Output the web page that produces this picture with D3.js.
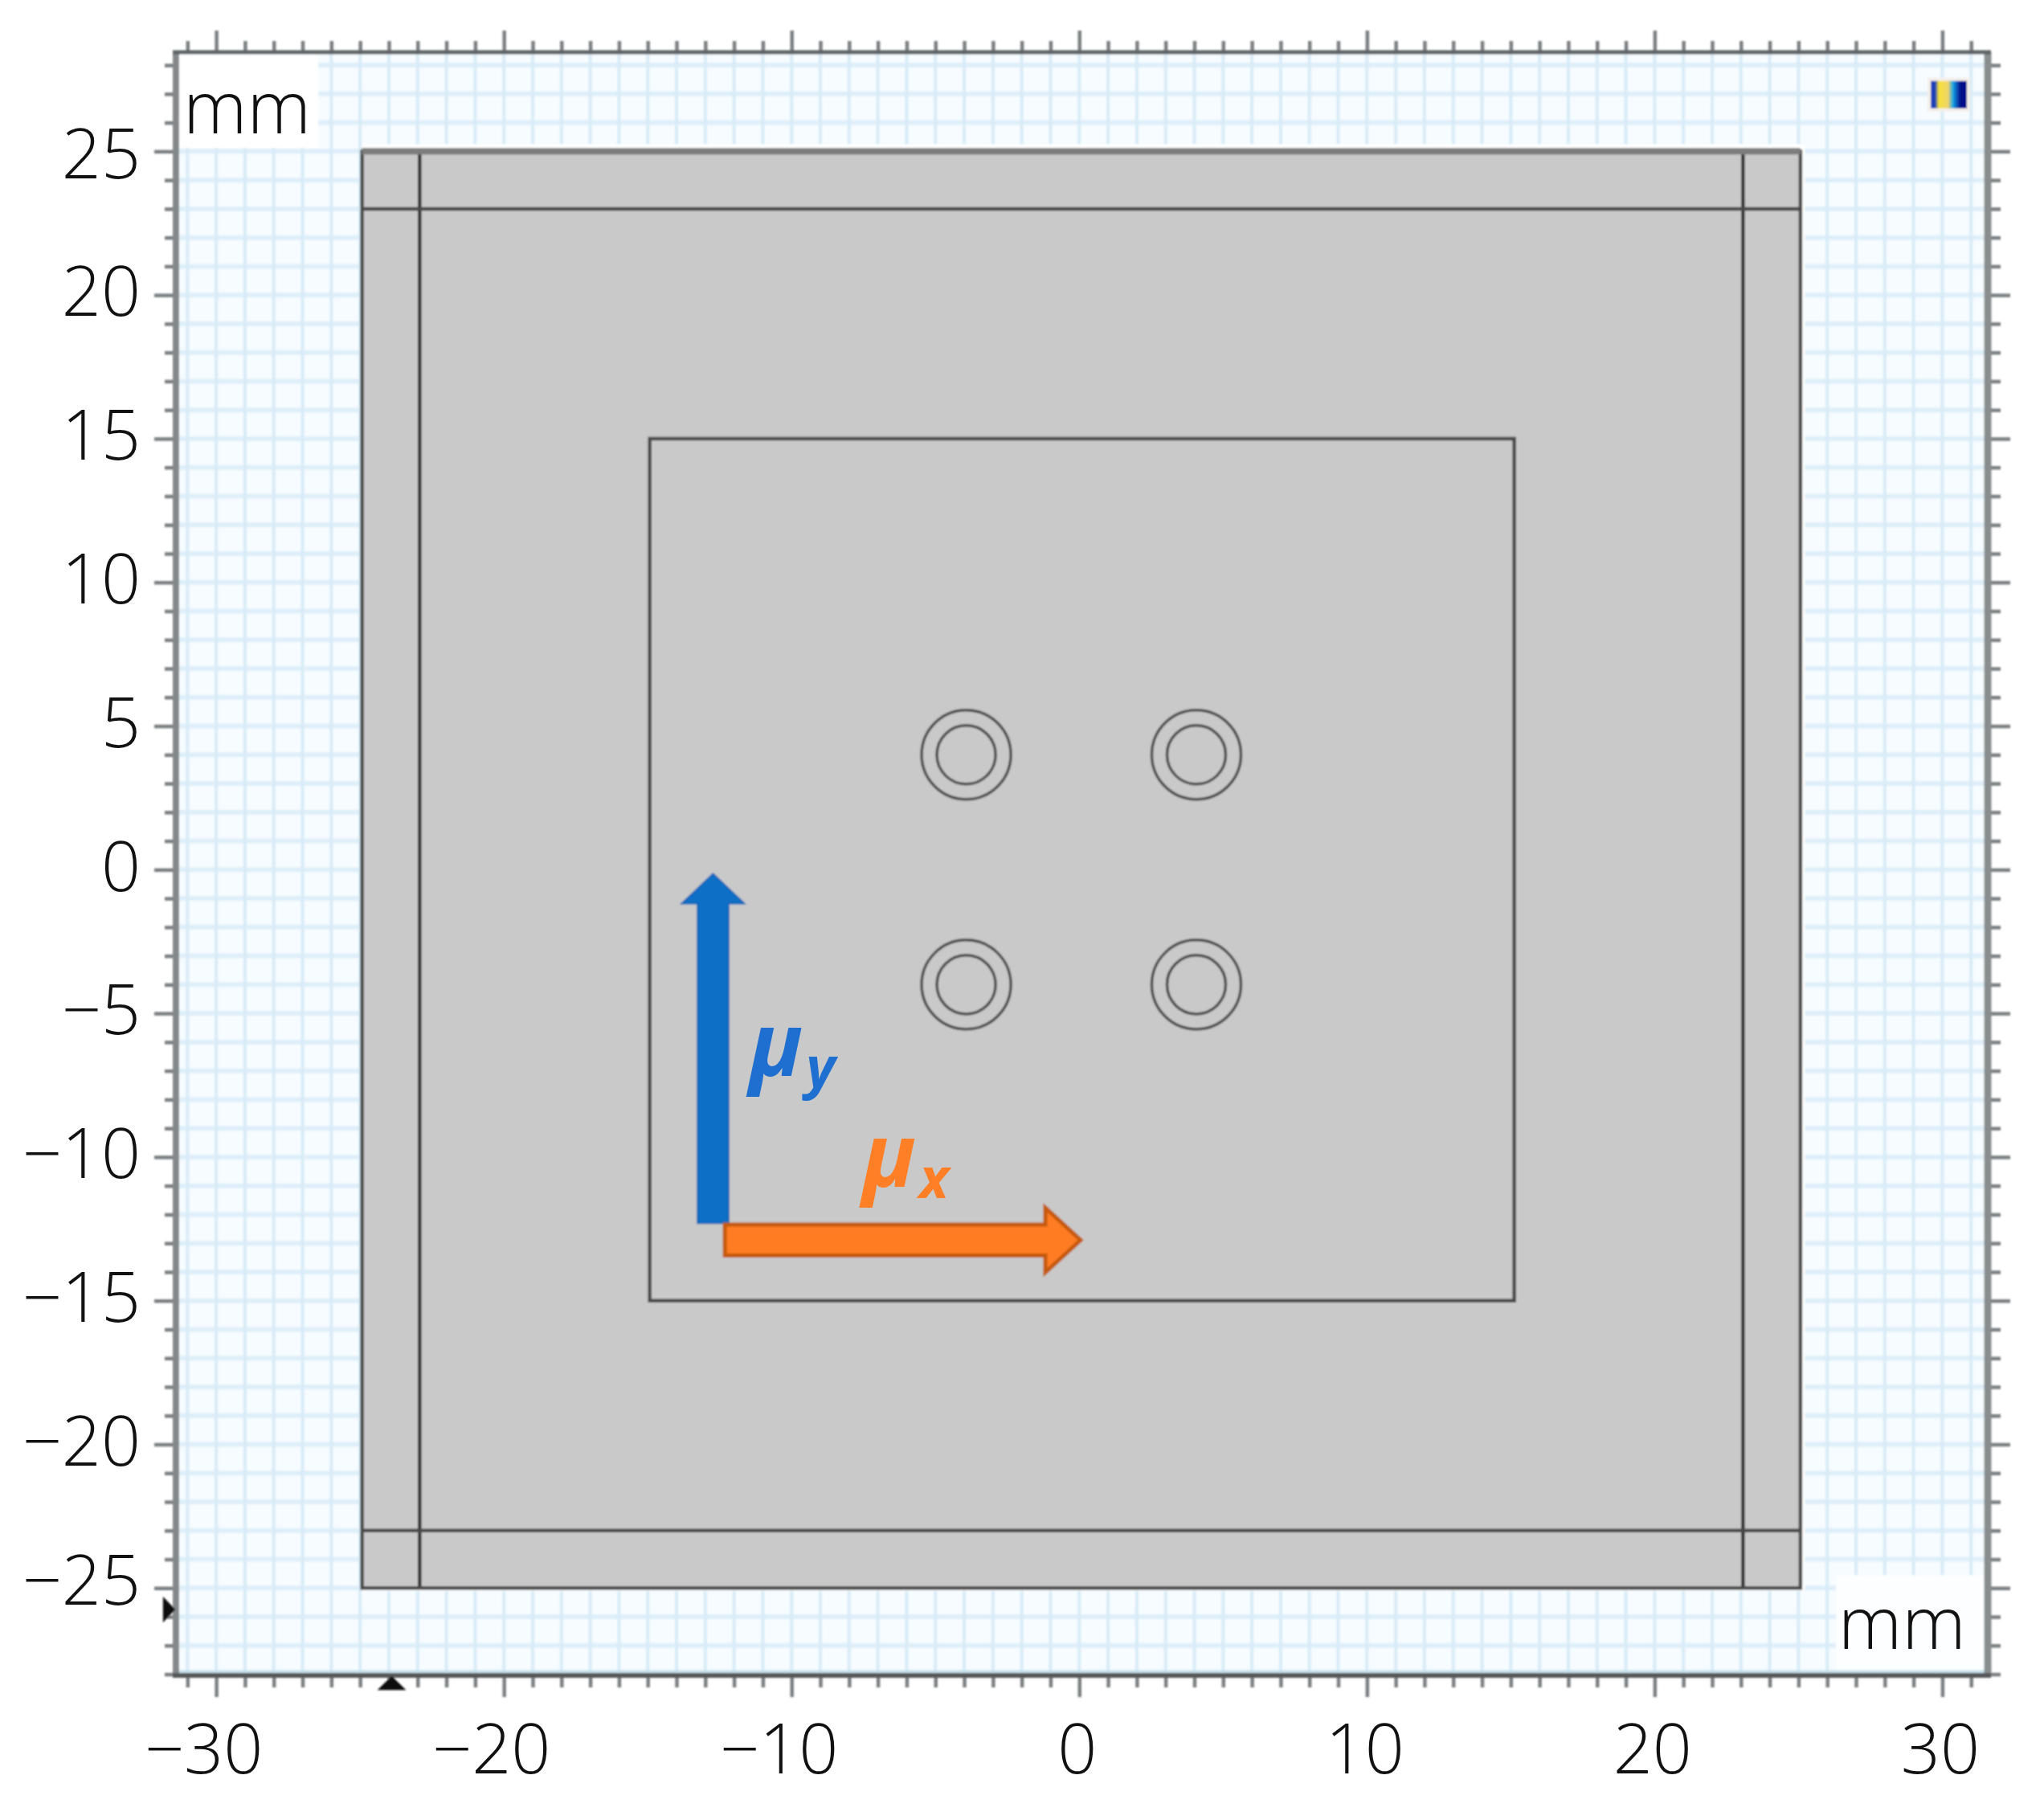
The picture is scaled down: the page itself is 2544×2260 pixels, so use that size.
<!DOCTYPE html>
<html>
<head>
<meta charset="utf-8">
<script src="https://cdn.jsdelivr.net/npm/d3@7"></script>
<style>
  body { margin: 0; background: #fff; }
  text { font-family: "Open Sans", sans-serif; font-weight: 300; fill: #111; }
</style>
</head>
<body>
<script>
// tick values, mm
const xMajor = [-30, -20, -10, 0, 10, 20, 30];
const yMajor = [25, 20, 15, 10, 5, 0, -5, -10, -15, -20, -25];
const xMinor = [-31, -29, -28, -27, -26, -25, -24, -23, -22, -21, -19, -18, -17, -16, -15, -14, -13, -12, -11,
  -9, -8, -7, -6, -5, -4, -3, -2, -1, 1, 2, 3, 4, 5, 6, 7, 8, 9,
  11, 12, 13, 14, 15, 16, 17, 18, 19, 21, 22, 23, 24, 25, 26, 27, 28, 29, 31];
const yMinor = [28, 27, 26, 24, 23, 22, 21, 19, 18, 17, 16, 14, 13, 12, 11, 9, 8, 7, 6, 4, 3, 2, 1,
  -1, -2, -3, -4, -6, -7, -8, -9, -11, -12, -13, -14, -16, -17, -18, -19, -21, -22, -23, -24, -26, -27, -28];

// geometry, mm
const outerSquare = [-25, 25];
const innerLines = [-23, 23];
const innerSquare = [-15, 15.05];
const holeCentres = [[-4, 4], [4, 4], [-4, -4], [4, -4]];
const holeRadii = [1.55, 1.02];
const muYArrow = [[-13.27, -12.3], [-13.27, -1.18], [-13.82, -1.18], [-12.73, -0.14], [-11.64, -1.18], [-12.19, -1.18], [-12.19, -12.3]];
const muXArrow = [[-12.32, -13.43], [-1.18, -13.43], [-1.18, -14.02], [0.05, -12.89], [-1.18, -11.76], [-1.18, -12.35], [-12.32, -12.35]];

const width = 2544;
const height = 2260;
const frameLeft = 219;
const frameRight = 2474;
const frameTop = 65;
const frameBottom = 2085;

const x = d3.scaleLinear().domain([-31.4, 31.58]).range([frameLeft, frameRight]);
const y = d3.scaleLinear().domain([28.45, -28.04]).range([frameTop, frameBottom]);
// the drawn part sits a little right of the ruler in the screenshot
const xs = x.copy().range([frameLeft + 2.5, frameRight + 2.5]);
const pathOf = d3.line().x(d => x(d[0])).y(d => y(d[1]));

const svg = d3.select("body").append("svg")
    .attr("width", width)
    .attr("height", height)
    .attr("viewBox", [0, 0, width, height])
    .style("display", "block");

const defs = svg.append("defs");
defs.append("filter").attr("id", "soft")
    .attr("filterUnits", "userSpaceOnUse")
    .attr("x", 0).attr("y", 0).attr("width", width).attr("height", height)
  .append("feGaussianBlur").attr("stdDeviation", 0.9);
const iconGrad = defs.append("linearGradient").attr("id", "icon");
[["0%", "#1a3fb8"], ["12%", "#1a3fb8"], ["22%", "#f6e23a"], ["48%", "#f0d46a"], ["62%", "#14a5ea"], ["82%", "#04108a"], ["100%", "#04108a"]]
  .forEach(s => iconGrad.append("stop").attr("offset", s[0]).attr("stop-color", s[1]));

const chart = svg.append("g").attr("filter", "url(#soft)");

// grid background
chart.append("rect")
    .attr("x", frameLeft).attr("y", frameTop)
    .attr("width", frameRight - frameLeft).attr("height", frameBottom - frameTop)
    .attr("fill", "#f6fcff");

chart.append("g").attr("stroke", "#dfeff9").attr("stroke-width", 6)
  .selectAll("line").data(yMajor.concat(yMinor)).join("line")
    .attr("x1", frameLeft).attr("x2", frameRight)
    .attr("y1", d => y(d)).attr("y2", d => y(d));
chart.append("g").attr("stroke", "#d8ebf7").attr("stroke-width", 4)
  .selectAll("line").data(xMajor.concat(xMinor)).join("line")
    .attr("y1", frameTop).attr("y2", frameBottom)
    .attr("x1", d => x(d)).attr("x2", d => x(d));

// white boxes behind the two unit labels
chart.append("rect")
    .attr("x", frameLeft).attr("y", frameTop)
    .attr("width", x(-26.45) - frameLeft).attr("height", y(25.12) - frameTop)
    .attr("fill", "#fff");
chart.append("rect")
    .attr("x", x(26.3)).attr("y", y(-24.55))
    .attr("width", frameRight - x(26.3)).attr("height", frameBottom - y(-24.55))
    .attr("fill", "#fcfeff");

// white halo, then the grey square
chart.append("rect")
    .attr("x", xs(-25)).attr("y", y(25.25))
    .attr("width", xs(25.15) - xs(-25)).attr("height", y(-25.1) - y(25.25))
    .attr("fill", "#fff");
chart.append("rect")
    .attr("x", xs(outerSquare[0])).attr("y", y(outerSquare[1]))
    .attr("width", xs(outerSquare[1]) - xs(outerSquare[0]))
    .attr("height", y(outerSquare[0]) - y(outerSquare[1]))
    .attr("fill", "#c9c9c9");

// construction lines
const geo = chart.append("g").attr("fill", "none").attr("stroke", "#4a4a4a").attr("stroke-width", 4.5);
geo.selectAll(".v").data(innerLines).join("line").attr("class", "v")
    .attr("stroke", "#333")
    .attr("x1", d => xs(d)).attr("x2", d => xs(d))
    .attr("y1", y(25)).attr("y2", y(-25));
geo.selectAll(".h").data(innerLines).join("line").attr("class", "h")
    .attr("y1", d => y(d)).attr("y2", d => y(d))
    .attr("x1", xs(-25)).attr("x2", xs(25));
geo.append("rect")
    .attr("x", xs(outerSquare[0])).attr("y", y(outerSquare[1]))
    .attr("width", xs(outerSquare[1]) - xs(outerSquare[0]))
    .attr("height", y(outerSquare[0]) - y(outerSquare[1]));
geo.append("line")
    .attr("stroke", "#7d7d7d").attr("stroke-width", 8)
    .attr("x1", xs(-25)).attr("x2", xs(25))
    .attr("y1", y(25)).attr("y2", y(25));
geo.append("rect")
    .attr("x", xs(innerSquare[0])).attr("y", y(15))
    .attr("width", xs(innerSquare[1]) - xs(innerSquare[0]))
    .attr("height", y(-15) - y(15));

// holes
holeCentres.forEach(c => {
  geo.selectAll(null).data(holeRadii).join("circle")
      .attr("stroke-width", 3.5)
      .attr("cx", xs(c[0])).attr("cy", y(c[1]))
      .attr("r", d => x(d) - x(0));
});

// frame ticks, minor then major
const styleTicks = g => {
  g.select(".domain").remove();
  g.selectAll("line").attr("stroke", "#7b7f81").attr("stroke-width", 4.5);
  g.selectAll("text").remove();
};
const frameTicks = (axis, tx, ty, values, size) => {
  chart.append("g").attr("transform", `translate(${tx},${ty})`)
      .call(axis.tickValues(values).tickSize(size).tickFormat(""))
      .call(styleTicks);
};
frameTicks(d3.axisTop(x), 0, frameTop, xMinor, 14);
frameTicks(d3.axisTop(x), 0, frameTop, xMajor, 27);
frameTicks(d3.axisBottom(x), 0, frameBottom, xMinor, 15);
frameTicks(d3.axisBottom(x), 0, frameBottom, xMajor, 27);
frameTicks(d3.axisLeft(y), frameLeft, 0, yMinor, 14);
frameTicks(d3.axisLeft(y), frameLeft, 0, yMajor, 27);
frameTicks(d3.axisRight(y), frameRight, 0, yMinor, 16);
frameTicks(d3.axisRight(y), frameRight, 0, yMajor, 28);

// frame edges
chart.append("line").attr("stroke", "#c6dfe9").attr("stroke-width", 5)
    .attr("x1", frameLeft).attr("x2", frameRight)
    .attr("y1", frameBottom - 4).attr("y2", frameBottom - 4);
chart.append("line").attr("stroke", "#84888a").attr("stroke-width", 8)
    .attr("x1", frameLeft).attr("x2", frameLeft)
    .attr("y1", frameTop).attr("y2", frameBottom);
chart.append("line").attr("stroke", "#888d8e").attr("stroke-width", 9)
    .attr("x1", frameRight).attr("x2", frameRight)
    .attr("y1", frameTop).attr("y2", frameBottom);
chart.append("line").attr("stroke", "#5f6466").attr("stroke-width", 5)
    .attr("x1", frameLeft - 4).attr("x2", frameRight + 4)
    .attr("y1", frameTop).attr("y2", frameTop);
chart.append("line").attr("stroke", "#56595a").attr("stroke-width", 6)
    .attr("x1", frameLeft - 4).attr("x2", frameRight + 4)
    .attr("y1", frameBottom).attr("y2", frameBottom);

// small markers on the left and bottom edges
chart.append("path")
    .attr("d", pathOf([[-31.85, -25.3], [-31.42, -25.75], [-31.85, -26.2]]))
    .attr("fill", "#111");
chart.append("path")
    .attr("d", pathOf([[-24.4, -28.55], [-23.9, -28.06], [-23.4, -28.55]]))
    .attr("fill", "#111");

// colour-bar icon, top right
chart.append("rect")
    .attr("x", x(29.6)).attr("y", y(27.45))
    .attr("width", x(30.85) - x(29.6)).attr("height", y(26.5) - y(27.45))
    .attr("fill", "url(#icon)").attr("stroke", "#f4efe9").attr("stroke-width", 8).attr("paint-order", "stroke");

// arrows
chart.append("path")
    .attr("d", pathOf(muYArrow) + "Z")
    .attr("fill", "#0f6fc6").attr("stroke", "#1565b8").attr("stroke-width", 2);
chart.append("path")
    .attr("d", pathOf(muXArrow) + "Z")
    .attr("fill", "#ff7b24").attr("stroke", "#c55a11").attr("stroke-width", 5);

// tick labels
const yLabels = d3.axisLeft(y).tickValues(yMajor).tickSize(0).tickFormat(d3.format("d"));
svg.append("g").attr("transform", "translate(175,0)")
    .call(yLabels)
    .call(g => g.select(".domain").remove())
    .call(g => g.selectAll("text")
        .attr("x", 0).attr("dy", "0.3em")
        .attr("y", d => d === 25 ? 7 : d === -25 ? -6 : 0)
        .attr("font-family", null)
        .attr("font-size", 86).attr("fill", "#111"));

const xLabels = d3.axisBottom(x).tickValues(xMajor).tickSize(0).tickFormat(d3.format("d"));
svg.append("g").attr("transform", "translate(0,2176)")
    .call(xLabels)
    .call(g => g.select(".domain").remove())
    .call(g => g.selectAll("text")
        .attr("y", 0).attr("dy", "0.36em")
        .attr("dx", d => d < 0 ? -16 : -3)
        .attr("font-family", null)
        .attr("font-size", 86).attr("fill", "#111"));

// unit labels
svg.append("text").attr("x", x(-31.15)).attr("y", y(25.63)).attr("font-size", 90).text("mm");
svg.append("text").attr("x", x(26.38)).attr("y", y(-27.13)).attr("font-size", 90).text("mm");

// arrow labels
const muLabel = (px, py, colour, sub) => {
  const t = svg.append("text")
      .attr("x", x(px)).attr("y", y(py))
      .style("font-weight", 700).style("font-style", "italic").style("fill", colour)
      .attr("font-size", 110);
  t.append("tspan").text("μ");
  t.append("tspan").attr("font-size", 70).attr("dx", 4).attr("dy", 14).text(sub);
};
muLabel(-11.48, -7.17, "#1f6fd0", "y");
muLabel(-7.55, -11.03, "#ff7f27", "x");
</script>
</body>
</html>
